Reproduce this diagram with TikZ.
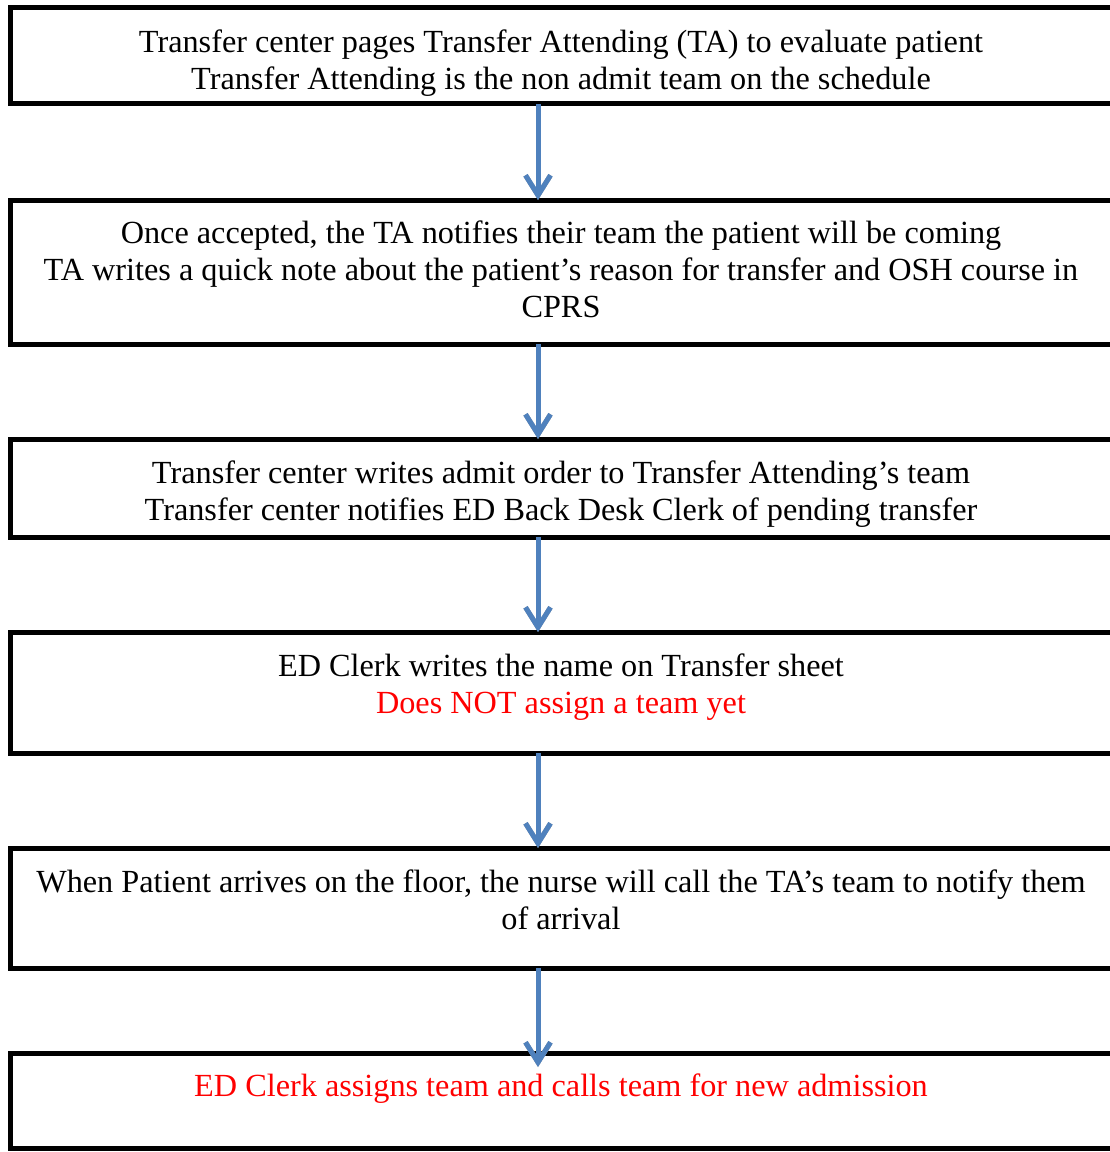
\documentclass[tikz,border=0pt]{standalone}
\usepackage{fontspec}
\setmainfont{Liberation Serif}
\usetikzlibrary{arrows.meta}
\definecolor{flowblue}{RGB}{79,129,189}
\definecolor{flowred}{RGB}{255,0,0}
\tikzset{
  stepbox/.style={draw=black,line width=2pt},
  steptext/.style={anchor=north,align=center,inner sep=0pt,font=\fontsize{12.9}{14.8}\selectfont},
  flowarrow/.style={draw=flowblue,line width=2pt,-{Straight Barb[length=8pt,width=10pt,line width=2pt]}},
  flowshadow/.style={draw=black!35,line width=2pt,-{Straight Barb[length=8pt,width=10pt,line width=2pt]},shift={(1.5,2)}},
}
\begin{document}
\begin{tikzpicture}[x=0.4pt,y=-0.4pt]
\useasboundingbox (0,0) rectangle (1109,1152);
% boxes, one per step
\draw[stepbox] (10,8) rectangle (1113,104);
\draw[stepbox] (10,200) rectangle (1113,344);
\draw[stepbox] (10,439) rectangle (1113,537);
\draw[stepbox] (10,632) rectangle (1113,753);
\draw[stepbox] (10,848) rectangle (1113,968);
\draw[stepbox] (10,1053) rectangle (1113,1148);
% texts
\node[steptext] (t1) at (561,29) {Transfer center pages Transfer Attending (TA) to evaluate patient\\
  Transfer Attending is the non admit team on the schedule};
\node[steptext] (t2) at (561,220) {Once accepted, the TA notifies their team the patient will be coming\\
  TA writes a quick note about the patient’s reason for transfer and OSH course in\\ CPRS};
\node[steptext] (t3) at (561,460) {Transfer center writes admit order to Transfer Attending’s team\\
  Transfer center notifies ED Back Desk Clerk of pending transfer};
\node[steptext] (t4) at (561,653) {ED Clerk writes the name on Transfer sheet\\
  \textcolor{flowred}{Does NOT assign a team yet}};
\node[steptext] (t5) at (561,869) {When Patient arrives on the floor, the nurse will call the TA’s team to notify them\\
  of arrival};
\node[steptext,text=flowred] (t6) at (561,1073) {ED Clerk assigns team and calls team for new admission};
% arrow anchors
\coordinate (a1) at (538,104); \coordinate (b1) at (538,200);
\coordinate (a2) at (538,344); \coordinate (b2) at (538,439);
\coordinate (a3) at (538,537); \coordinate (b3) at (538,632);
\coordinate (a4) at (538,753); \coordinate (b4) at (538,848);
\coordinate (a5) at (538,968); \coordinate (b5) at (538,1067);
\foreach \i in {1,...,5}{
  \draw[flowshadow] (a\i) -- (b\i);
  \draw[flowarrow] (a\i) -- (b\i);
}
\end{tikzpicture}
\end{document}
